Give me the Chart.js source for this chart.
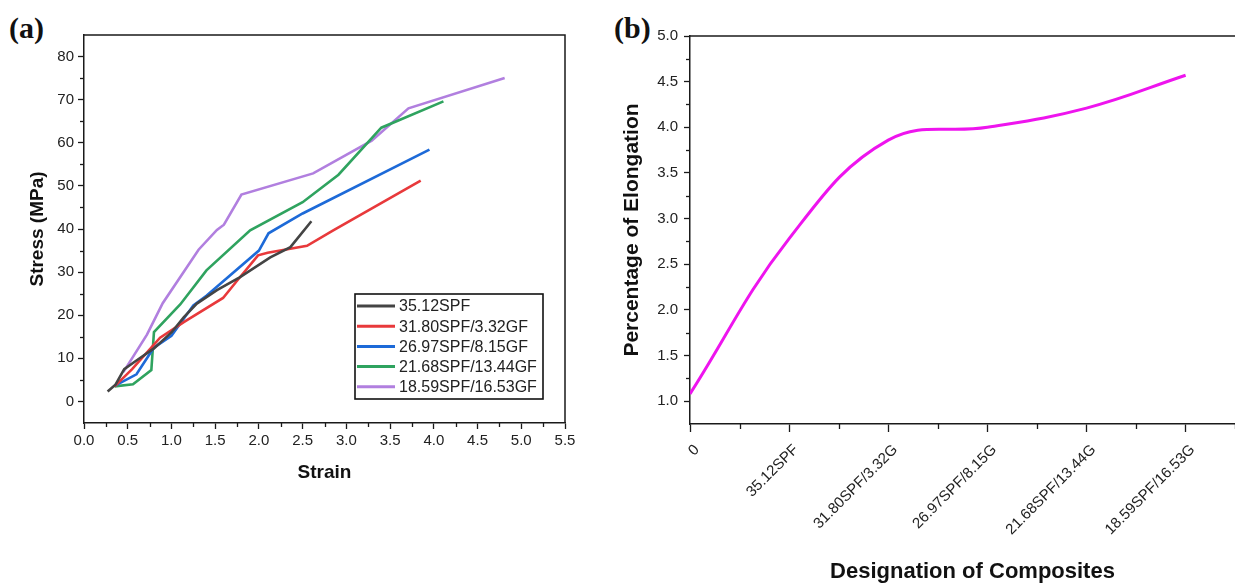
<!DOCTYPE html>
<html>
<head>
<meta charset="utf-8">
<title>Tensile behaviour and elongation of SPF/GF composites</title>
<script src="https://cdn.jsdelivr.net/npm/chart.js@4/dist/chart.umd.min.js"></script>
<style>
  html, body { margin: 0; padding: 0; background: #fff; overflow: hidden; width: 1235px; height: 585px; }
  #wrapA { position: absolute; left: 0; top: 0; width: 600px; height: 585px; }
  #wrapB { position: absolute; left: 600px; top: 0; width: 655px; height: 585px; }
  .panel { position: absolute; font: bold 30px "Liberation Serif", "Times New Roman", serif; color: #111; line-height: 34px; }
</style>
</head>
<body>
<div class="panel" style="left:9px; top:11px;">(a)</div>
<div class="panel" style="left:614px; top:11px;">(b)</div>
<div id="wrapA"><canvas id="stressStrain" width="600" height="585"></canvas></div>
<div id="wrapB"><canvas id="elongation" width="655" height="585"></canvas></div>
<script>
// ---- Panel (a): stress-strain curves ----
const seriesNames = ['35.12SPF', '31.80SPF/3.32GF', '26.97SPF/8.15GF', '21.68SPF/13.44GF', '18.59SPF/16.53GF'];
const seriesColors = ['#444444', '#e8393b', '#1d6ad8', '#2fa35f', '#b17fdf'];

const strainSPF = [0.27, 0.36, 0.46, 0.6, 0.8, 1.0, 1.14, 1.29, 1.52, 1.78, 2.13, 2.36, 2.6];
const stressSPF = [2.3, 3.9, 7.5, 9.5, 12.3, 16.0, 19.5, 22.7, 25.8, 28.8, 33.4, 35.8, 41.8];

const strainGF332 = [0.35, 0.55, 0.87, 1.15, 1.59, 1.75, 1.99, 2.1, 2.55, 2.85, 3.85];
const stressGF332 = [3.5, 7.5, 14.8, 18.5, 24.0, 28.0, 33.9, 34.5, 36.1, 39.7, 51.2];

const strainGF815 = [0.35, 0.6, 0.8, 1.0, 1.25, 1.4, 2.0, 2.11, 2.5, 3.95];
const stressGF815 = [3.6, 6.3, 12.5, 15.2, 22.3, 24.5, 35.0, 39.0, 43.6, 58.4];

const strainGF1344 = [0.35, 0.56, 0.77, 0.8, 1.1, 1.4, 1.9, 2.5, 2.91, 3.4, 4.11];
const stressGF1344 = [3.5, 4.0, 7.3, 16.1, 22.5, 30.4, 39.7, 46.2, 52.6, 63.5, 69.6];

const strainGF1653 = [0.45, 0.72, 0.9, 1.31, 1.52, 1.6, 1.8, 2.62, 3.29, 3.71, 4.81];
const stressGF1653 = [6.8, 15.5, 22.8, 35.2, 39.8, 41.0, 48.0, 52.9, 60.5, 68.0, 75.0];

const strainTicks = [0, 0.5, 1.0, 1.5, 2.0, 2.5, 3.0, 3.5, 4.0, 4.5, 5.0, 5.5];
const stressTicks = [0, 10, 20, 30, 40, 50, 60, 70, 80];

// ---- Panel (b): elongation per composite ----
const composites = ['0', '35.12SPF', '31.80SPF/3.32G', '26.97SPF/8.15G', '21.68SPF/13.44G', '18.59SPF/16.53G'];
const elongation = [1.08, 2.78, 3.86, 4.0, 4.21, 4.57];
const elongationTicks = [1.0, 1.5, 2.0, 2.5, 3.0, 3.5, 4.0, 4.5, 5.0];

const FAMILY = '"Liberation Sans", Arial, Helvetica, sans-serif';
const AXIS = '#1a1a1a';
const TEXT = '#222';

function pairs(xs, ys) { return xs.map((x, i) => ({ x, y: ys[i] })); }

// small ticks between the labelled ones, placed through each scale
const minorTicks = {
  id: 'minorTicks',
  afterDraw(chart, args, opts) {
    const ctx = chart.ctx;
    ctx.save();
    ctx.strokeStyle = AXIS;
    ctx.lineWidth = 1.3;
    for (const s of opts.scales || []) {
      const scale = chart.scales[s.id];
      s.values.forEach(v => {
        const p = Math.round(scale.getPixelForValue(v)) + 0.5;
        ctx.beginPath();
        if (scale.isHorizontal()) {
          ctx.moveTo(p, scale.top);
          ctx.lineTo(p, scale.top + s.len);
        } else {
          ctx.moveTo(scale.right, p);
          ctx.lineTo(scale.right - s.len, p);
        }
        ctx.stroke();
      });
    }
    ctx.restore();
  }
};

// frame lines along the plot area edges
const frame = {
  id: 'frame',
  afterDraw(chart, args, opts) {
    const { ctx, chartArea: a } = chart;
    ctx.save();
    ctx.strokeStyle = AXIS;
    ctx.lineWidth = 1.5;
    ctx.beginPath();
    if (opts.top) { ctx.moveTo(a.left, a.top); ctx.lineTo(a.right + (opts.right ? 0.75 : 20), a.top); }
    if (opts.right) { ctx.moveTo(a.right, a.top); ctx.lineTo(a.right, a.bottom); }
    ctx.stroke();
    ctx.restore();
  }
};

// boxed legend inside the plot area
const boxLegend = {
  id: 'boxLegend',
  afterDatasetsDraw(chart, args, o) {
    if (!o.display) return;
    const ctx = chart.ctx;
    ctx.save();
    ctx.fillStyle = '#fff';
    ctx.fillRect(o.x, o.y, o.w, o.h);
    ctx.lineWidth = 1.6;
    ctx.strokeStyle = '#111';
    ctx.strokeRect(o.x, o.y, o.w, o.h);
    ctx.font = '16px ' + FAMILY;
    ctx.textBaseline = 'middle';
    ctx.textAlign = 'left';
    chart.data.datasets.forEach((ds, i) => {
      const cy = o.y + o.firstRow + i * o.rowH;
      ctx.strokeStyle = ds.borderColor;
      ctx.lineWidth = 3;
      ctx.beginPath();
      ctx.moveTo(o.x + 2, cy);
      ctx.lineTo(o.x + 40, cy);
      ctx.stroke();
      ctx.fillStyle = TEXT;
      ctx.fillText(ds.label, o.x + 44, cy + 1);
    });
    ctx.restore();
  }
};

Chart.defaults.font.family = FAMILY;
Chart.defaults.color = TEXT;

const curves = [
  pairs(strainSPF, stressSPF),
  pairs(strainGF332, stressGF332),
  pairs(strainGF815, stressGF815),
  pairs(strainGF1344, stressGF1344),
  pairs(strainGF1653, stressGF1653)
];

new Chart(document.getElementById('stressStrain'), {
  type: 'line',
  data: {
    datasets: curves.map((pts, i) => ({
      label: seriesNames[i],
      data: pts,
      borderColor: seriesColors[i],
      backgroundColor: seriesColors[i],
      borderWidth: 2.6,
      pointRadius: 0,
      tension: 0,
      fill: false
    }))
  },
  options: {
    responsive: false,
    animation: false,
    events: [],
    layout: { padding: { left: 0, top: 35, right: 35, bottom: 0 } },
    plugins: {
      legend: { display: false },
      tooltip: { enabled: false },
      minorTicks: {
        scales: [
          { id: 'x', len: 4, values: strainTicks.slice(0, -1).map(v => v + 0.25) },
          { id: 'y', len: 4, values: stressTicks.slice(0, -1).map(v => v + 5) }
        ]
      },
      frame: { top: true, right: true },
      boxLegend: { display: true, x: 355, y: 294, w: 188, h: 105, firstRow: 12, rowH: 20.2 }
    },
    scales: {
      x: {
        type: 'linear',
        min: 0,
        max: 5.5,
        afterBuildTicks(s) { s.ticks = strainTicks.map(v => ({ value: v })); },
        afterFit(s) { s.height = 162; },
        ticks: {
          autoSkip: false, maxRotation: 0, padding: 3,
          font: { size: 15 }, color: TEXT,
          callback: v => Number(v).toFixed(1)
        },
        grid: { drawOnChartArea: false, drawTicks: true, tickLength: 6, tickWidth: 1.3, tickColor: AXIS },
        border: { display: true, color: AXIS, width: 1.5 },
        title: { display: true, text: 'Strain', color: '#111', font: { size: 19, weight: 'bold' }, padding: { top: 0, bottom: 100.6 } }
      },
      y: {
        type: 'linear',
        min: -5,
        max: 85,
        afterBuildTicks(s) { s.ticks = stressTicks.map(v => ({ value: v })); },
        afterFit(s) { s.width = 84; },
        ticks: { padding: 4, font: { size: 15 }, color: TEXT, callback: v => String(v) },
        grid: { drawOnChartArea: false, drawTicks: true, tickLength: 6, tickWidth: 1.3, tickColor: AXIS },
        border: { display: true, color: AXIS, width: 1.5 },
        title: { display: true, text: 'Stress (MPa)', color: '#111', font: { size: 19, weight: 'bold' }, padding: { top: 26.6, bottom: 0 } }
      }
    }
  },
  plugins: [minorTicks, frame, boxLegend]
});

new Chart(document.getElementById('elongation'), {
  type: 'line',
  data: {
    datasets: [{
      label: 'Percentage of Elongation',
      data: elongation.map((v, i) => ({ x: i, y: v })),
      borderColor: '#ee14ee',
      borderWidth: 3,
      pointRadius: 0,
      tension: 0.4,
      fill: false
    }]
  },
  options: {
    responsive: false,
    animation: false,
    events: [],
    layout: { padding: { left: 0, top: 36, right: 0, bottom: 0 } },
    plugins: {
      legend: { display: false },
      tooltip: { enabled: false },
      minorTicks: {
        scales: [
          { id: 'x', len: 5, values: composites.map((c, i) => i + 0.5) },
          { id: 'y', len: 4, values: elongationTicks.slice(0, -1).map(v => v + 0.25) }
        ]
      },
      frame: { top: true, right: false },
      boxLegend: { display: false }
    },
    scales: {
      x: {
        type: 'linear',
        min: 0,
        max: 5.7,
        afterBuildTicks(s) { s.ticks = composites.map((c, i) => ({ value: i })); },
        afterFit(s) { s.height = 161; },
        ticks: {
          autoSkip: false, minRotation: 45, maxRotation: 45, padding: 9, labelOffset: 7,
          font: { size: 15 }, color: TEXT,
          callback: v => composites[v] ?? ''
        },
        grid: { drawOnChartArea: false, drawTicks: true, tickLength: 8, tickWidth: 1.3, tickColor: AXIS },
        border: { display: true, color: AXIS, width: 1.5 },
        title: { display: true, text: 'Designation of Composites', color: '#111', font: { size: 22, weight: 'bold' }, padding: { top: 0, bottom: 0 } }
      },
      y: {
        type: 'linear',
        min: 0.75,
        max: 5.0,
        afterBuildTicks(s) { s.ticks = elongationTicks.map(v => ({ value: v })); },
        afterFit(s) { s.width = 90; },
        ticks: { padding: 6, font: { size: 15 }, color: TEXT, callback: v => Number(v).toFixed(1) },
        grid: { drawOnChartArea: false, drawTicks: true, tickLength: 6, tickWidth: 1.3, tickColor: AXIS },
        border: { display: true, color: AXIS, width: 1.5 },
        title: { display: true, text: 'Percentage of Elongation', color: '#111', font: { size: 21, weight: 'bold' }, padding: { top: 19.4, bottom: 0 } }
      }
    }
  },
  plugins: [minorTicks, frame, boxLegend]
});
</script>
</body>
</html>
